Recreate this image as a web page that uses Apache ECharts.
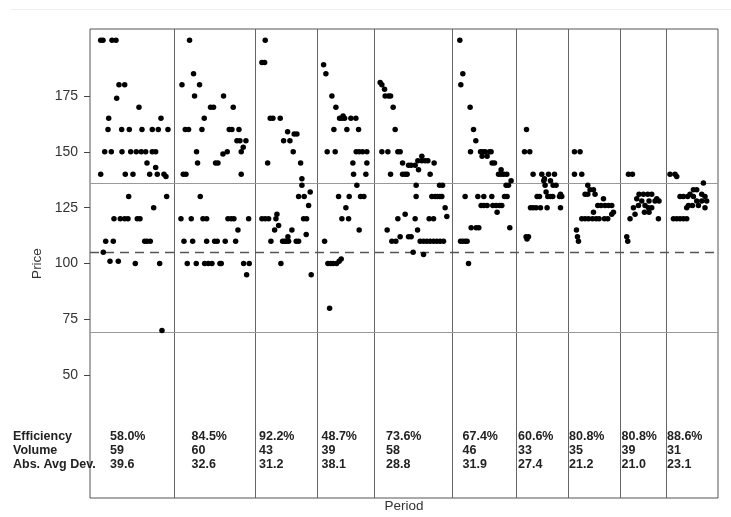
<!DOCTYPE html>
<html><head><meta charset="utf-8">
<script src="https://cdn.jsdelivr.net/npm/echarts@6/dist/echarts.min.js"></script>
<style>html,body{margin:0;padding:0;background:#fff}#c{width:731px;height:517px}</style>
</head><body><div id="c"></div>
<script>
// ---- data ----
const periodSpan = [84.3, 80.7, 62.7, 57, 77.3, 64.7, 51.3, 52.3, 46.4, 51.6];
const efficiency = ['58.0%','84.5%','92.2%','48.7%','73.6%','67.4%','60.6%','80.8%','80.8%','88.6%'];
const volume = ['59','60','43','39','58','46','33','35','39','31'];
const absAvgDev = ['39.6','32.6','31.2','38.1','28.8','31.9','27.4','21.2','21.0','23.1'];
const rowLabels = ['Efficiency','Volume','Abs. Avg Dev.'];
const yTicks = [50, 75, 100, 125, 150, 175];
const upperLine = 136;
const midLine = 105;
const lowerLine = 69;

// trades: [time within period, price]
const p1 = [[10.7,200],[13,200],[22,200],[26,200],[29,180],[34.7,180],[26.7,174],[49,170],[18.7,165],[71,165],
[18,160],[31.7,160],[39.3,160],[52,160],[62.3,160],[68.3,160],[78,160],
[14.7,150],[21.3,150],[32,150],[40.7,150],[46.3,150],[51.3,150],[55.7,150],[62.3,150],[65.7,150],
[57,145],[65.7,143],[10.7,140],[35.3,140],[43,140],[59.7,140],[67.3,140],[74,140],[76,139],
[38.7,130],[76.7,130],[63.7,125],[24,120],[30.3,120],[34.7,120],[38,120],[47.3,120],[50,120],
[15.7,110],[23.3,110],[54.7,110],[57,110],[60.3,110],[13.3,105],[20,101],[28.3,101],[45.3,100],[69.7,100],[72,70]];
const p2 = [[15.3,200],[19.3,185],[7.7,180],[25.3,180],[20.3,175],[49.3,175],[36.3,170],[39.3,170],[59,170],[30,165],
[11,160],[14.3,160],[27.7,160],[55,160],[57.7,160],[64.7,160],[62.7,155],[65.7,155],[71.7,155],[69,152],
[22.3,150],[53,150],[67,150],[48.7,149],[23.3,145],[41.3,145],[43.7,145],[9,140],[11.7,140],[67,140],[26,130],
[6.7,120],[17,120],[28.7,120],[32.4,120],[53.7,120],[57,120],[59.7,120],[74.4,120],[63.7,115],
[9.7,110],[18.4,110],[32.4,110],[40.4,110],[43,110],[51,110],[61.4,110],
[13,100],[22,100],[30.4,100],[34,100],[37.7,100],[45.7,100],[47,100],[69.4,100],[75,100],[72.4,95]];
const p3 = [[10.3,200],[7,190],[9.7,190],[15.3,165],[18,165],[25.3,165],[32.7,159],[39.3,158],[42,158],[28.7,155],[35,155],
[38.3,150],[12.7,145],[45.7,145],[47,138],[47,135],[55.3,132],[43.7,130],[49.3,130],[53.7,126],
[7,120],[10.3,120],[13.7,120],[21,120],[48.7,120],[51.7,120],[22,122],[23.7,117],[19.7,115],[37,115],[51.3,113],
[16,110],[27.7,110],[29.7,110],[31.3,110],[33.7,110],[41.3,110],[43.7,110],[33,112],[26,100],[56.3,95]];
const p4 = [[6,189],[8.3,185],[14.3,175],[18.3,170],[22,165],[24.3,165],[27,165],[33.3,165],[38.3,165],[25.5,166],
[16.3,160],[29.3,160],[41,160],[9.6,150],[17.6,150],[38.6,150],[41.6,150],[45,150],[49.3,150],
[35.3,145],[49.3,145],[36,140],[48.3,140],[39.3,135],[21,130],[31.6,130],[43,130],[46.3,130],[28.3,125],
[24.3,120],[31,120],[41.6,115],[7,110],[10.3,100],[13,100],[15.6,100],[19,100],[21.6,101],[23.6,102],[12,80]];
const p5 = [[5.6,181],[7.3,180],[10,178],[10.6,175],[14,175],[16,175],[18.6,170],[20.6,160],
[7.3,150],[13.3,150],[23.3,150],[25.6,150],[28,145],[59.6,145],[43.3,146],[47.3,146],[50.6,146],[53.3,146],[47.3,148],
[34,144],[36.6,144],[40.6,144],[44,142],[16,140],[28,140],[30.6,140],[32.6,140],[55.6,140],
[41.6,135],[65,135],[68,135],[41.6,130],[57.3,130],[60.6,130],[63,130],[65.3,130],[67.3,130],
[70.6,125],[72.3,121],[23.3,120],[40.6,120],[54.6,120],[59,120],[30.6,122],[12.6,115],[43,115],
[25.6,112],[34,112],[36.6,112],[17.3,110],[21.3,110],[45.6,110],[49,110],[52.3,110],[55.6,110],[59,110],[62.3,110],[65.6,110],[69,110],
[38.6,105],[49,104]];
const p6 = [[8,200],[11,185],[9,180],[18.3,170],[21.7,160],[24,155],
[18.7,150],[28.7,150],[31,150],[33.3,150],[37.7,150],[39.3,150],[30.3,148],[35.3,148],[40.3,145],[42.7,145],[49.3,142],
[46.7,140],[49.3,140],[52,140],[55,140],[59.3,137],[54.3,135],[56.7,135],
[13.3,130],[26,130],[32,130],[40,130],[52.7,130],[55.3,130],
[29.3,126],[32,126],[35.3,126],[41,126],[44.3,126],[47.7,126],[50,126],[45.3,123],
[19.3,116],[24.3,116],[27,116],[58,116],[8.7,110],[11,110],[13.3,110],[15.3,110],[16.7,100]];
const p7 = [[10,160],[8,150],[13.3,150],[16.6,140],[25.3,140],[32,140],[38,140],[28,138],[27.3,137],[34,137],
[28.6,135],[36.6,135],[39.6,135],[29.6,132],[20.6,130],[23,130],[31.3,130],[34,130],[36.3,130],[43,130],[45.3,130],[44,131],
[14,125],[16.6,125],[19.6,125],[24,125],[30.6,125],[44,125],[9.6,112],[12,112],[10.5,111]];
const p8 = [[6.7,150],[12.3,150],[6.7,140],[14,140],[20,135],[22.3,133],[25.7,133],[17.3,131],[20,131],[27.3,131],[35.7,129],
[30,126],[33.3,126],[37.3,126],[40.7,126],[44,126],[25.7,123],[45.7,123],[44,122],
[14,120],[17.3,120],[20.7,120],[24.7,120],[28.3,120],[31.3,120],[36.7,120],[40,120],[8.7,115],[9.7,112],[10.7,110]];
const p9 = [[8.4,140],[12.4,140],[19,131],[23.4,131],[27.7,131],[31.7,131],[16.7,129],[36.7,129],
[21.7,128],[29,128],[35,128],[39,128],[18.4,126],[25,126],[13.4,125],[28.4,125],[31.7,125],
[24.4,123],[29,123],[15,122],[10,120],[38.4,120],[6.7,112],[7.7,110]];
const p10 = [[3.6,140],[8.6,140],[10.3,139],[37,136],[27,133],[30.3,133],[23.6,131],[35.3,131],
[13.6,130],[17,130],[21.3,130],[27,130],[38.6,130],[30.3,128],[35.3,128],[40.3,128],
[22,126],[26,126],[32,126],[20.3,125],[38.6,125],[7,120],[10.3,120],[13.6,120],[17,120],[20.3,120]];
const periods = [p1,p2,p3,p4,p5,p6,p7,p8,p9,p10];

// ---- build ----
const starts = [];
let acc = 0;
periodSpan.forEach(w => { starts.push(acc); acc += w; });
const total = acc;
const points = [];
periods.forEach((p, i) => p.forEach(([t, v]) => points.push([starts[i] + t, v])));
const dividers = starts.slice(1).map(x => ({ xAxis: x }));

const FONT = '"Liberation Sans", Arial, sans-serif';
const statLeft = [110, 191.5, 259, 321.5, 386, 462.5, 518, 569, 621.5, 667];
const rowY = [437, 451, 464.5];

const graphics = [
  { type: 'line', shape: { x1: 10, y1: 9.5, x2: 731, y2: 9.5 }, style: { stroke: '#eeeeee', lineWidth: 1 }, silent: true },
  { type: 'text', x: 37, y: 263.5, rotation: Math.PI / 2,
    style: { text: 'Price', font: '13.5px ' + FONT, fill: '#333', textAlign: 'center', textVerticalAlign: 'middle' } },
  { type: 'text', x: 404, y: 506.5,
    style: { text: 'Period', font: '13.5px ' + FONT, fill: '#333', textAlign: 'center', textVerticalAlign: 'middle' } }
];
rowLabels.forEach((t, r) => graphics.push({ type: 'text', x: 13, y: rowY[r],
  style: { text: t, font: 'bold 12.5px ' + FONT, fill: '#222', textAlign: 'left', textVerticalAlign: 'middle' } }));
[efficiency, volume, absAvgDev].forEach((arr, r) => arr.forEach((t, i) => graphics.push({ type: 'text', x: statLeft[i], y: rowY[r],
  style: { text: t, font: 'bold 12.5px ' + FONT, fill: '#222', textAlign: 'left', textVerticalAlign: 'middle' } })));

const chart = echarts.init(document.getElementById('c'), null, { renderer: 'canvas' });
chart.setOption({
  animation: false,
  backgroundColor: '#fff',
  textStyle: { fontFamily: FONT },
  grid: { left: 90, right: 13, top: 29, bottom: 19, show: true, borderColor: '#555', borderWidth: 1,
          backgroundColor: 'transparent', containLabel: false, outerBoundsMode: 'none' },
  xAxis: {
    type: 'value', min: 0, max: total,
    axisLine: { show: false }, axisTick: { show: false }, axisLabel: { show: false }, splitLine: { show: false }
  },
  yAxis: {
    type: 'value', min: -5, max: 205,
    axisLine: { show: false },
    axisTick: { show: true, customValues: yTicks, length: 6, lineStyle: { color: '#444' } },
    axisLabel: { customValues: yTicks, fontSize: 14, color: '#333', margin: 12, fontFamily: FONT },
    splitLine: { show: false }
  },
  series: [
    {
      type: 'line', data: [], silent: true,
      markLine: {
        silent: true, symbol: ['none', 'none'], label: { show: false }, animation: false,
        data: [
          ...dividers.map(d => ({ ...d, lineStyle: { color: '#666', width: 1, type: 'solid' } })),
          { yAxis: upperLine, lineStyle: { color: '#999', width: 1, type: 'solid' } },
          { yAxis: lowerLine, lineStyle: { color: '#999', width: 1, type: 'solid' } },
          { yAxis: midLine, lineStyle: { color: '#555', width: 1.3, type: [9, 6] } }
        ]
      }
    },
    {
      type: 'scatter', data: points, symbol: 'circle', symbolSize: 5.5,
      itemStyle: { color: '#000', opacity: 1 }, silent: true, z: 5
    }
  ],
  graphic: graphics
});
</script>
</body></html>
